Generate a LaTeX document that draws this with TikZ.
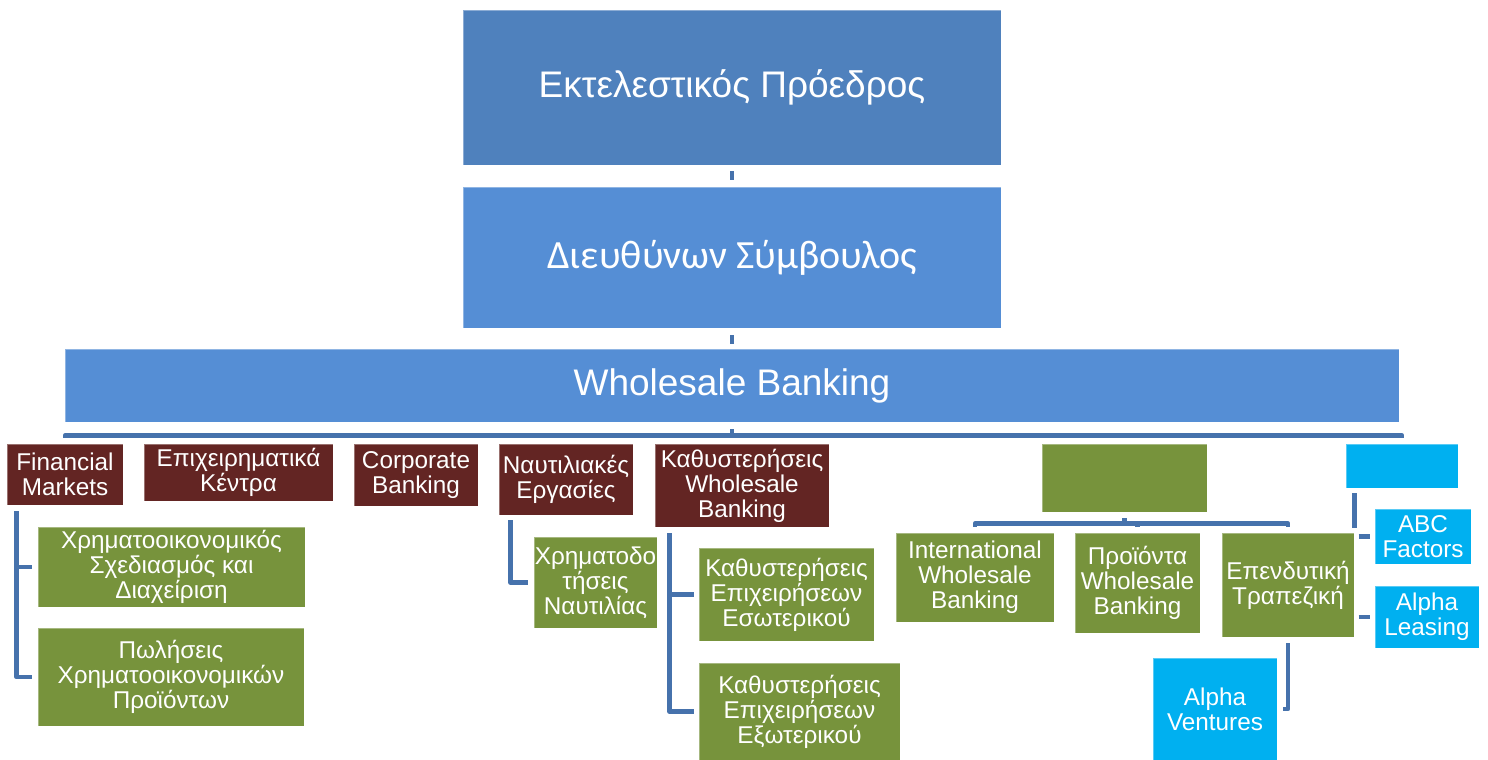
\documentclass[tikz,border=0pt]{standalone}
\usepackage{fontspec}
\setmainfont{Liberation Sans}
\newfontfamily\mdfont{Carlito}
\definecolor{ceoblue}{HTML}{4F81BD}
\definecolor{unitblue}{HTML}{558ED5}
\definecolor{unitred}{HTML}{632523}
\definecolor{unitgreen}{HTML}{77933C}
\definecolor{unitcyan}{HTML}{00B0F0}
\definecolor{connblue}{HTML}{4672AC}
\begin{document}
\begin{tikzpicture}[x=1pt,y=-1pt,
  box/.style={rectangle, inner sep=0pt, text=white, align=center,
    draw=white, draw opacity=0.35, line width=0.8pt},
  big/.style={font=\fontsize{37}{44}\selectfont},
  small/.style={font=\fontsize{24.3}{25}\selectfont},
  conn/.style={draw=connblue, line width=4.5pt, line join=round}]
\useasboundingbox (0,0) rectangle (1488,760);

% top of the hierarchy
\node[box, big, fill=ceoblue, minimum width=538pt, minimum height=155pt] (ceo) at (732,87.5) {\raisebox{-3pt}{Εκτελεστικός Πρόεδρος}};
\node[box, fill=unitblue, minimum width=538pt, minimum height=141pt, font=\mdfont\fontsize{40}{46}\selectfont] (md) at (732,257.5) {Διευθύνων Σύμβουλος};
\node[box, big, fill=unitblue, minimum width=1334pt, minimum height=73pt] (wb) at (732,385.5) {\raisebox{-2pt}{Wholesale Banking}};

% divisions
\node[box, small, fill=unitred, minimum width=116pt, minimum height=61pt] (fm) at (65,474.5) {Financial\\Markets};
\node[box, small, fill=unitred, minimum width=189pt, minimum height=57pt] (ek) at (238.5,472.5) {Επιχειρηματικά\\Κέντρα};
\node[box, small, fill=unitred, minimum width=124pt, minimum height=62pt] (cb) at (416,475) {Corporate\\Banking};
\node[box, small, fill=unitred, minimum width=134pt, minimum height=71pt] (ne) at (566,479.5) {Ναυτιλιακές\\Εργασίες};
\node[box, small, fill=unitred, minimum width=174pt, minimum height=83pt] (kw) at (742,485.5) {Καθυστερήσεις\\Wholesale\\Banking};
\node[box, small, fill=unitgreen, minimum width=165pt, minimum height=68pt] (gr) at (1124.5,478) {};
\node[box, small, fill=unitcyan, minimum width=112pt, minimum height=44pt] (cy) at (1402,466) {};

% units
\node[box, small, fill=unitgreen, minimum width=267pt, minimum height=80pt] (fm1) at (171.5,567) {Χρηματοοικονομικός\\Σχεδιασμός και\\Διαχείριση};
\node[box, small, fill=unitgreen, minimum width=266pt, minimum height=98pt] (fm2) at (171,677) {Πωλήσεις\\Χρηματοοικονομικών\\Προϊόντων};
\node[box, small, fill=unitgreen, minimum width=123pt, minimum height=91pt] (ne1) at (595.5,582.5) {Χρηματοδο\\τήσεις\\Ναυτιλίας};
\node[box, small, fill=unitgreen, minimum width=175pt, minimum height=93pt] (kw1) at (786.5,594.5) {Καθυστερήσεις\\Επιχειρήσεων\\Εσωτερικού};
\node[box, small, fill=unitgreen, minimum width=201pt, minimum height=97pt] (kw2) at (799.5,711.5) {Καθυστερήσεις\\Επιχειρήσεων\\Εξωτερικού};
\node[box, small, fill=unitgreen, minimum width=158pt, minimum height=89pt] (iwb) at (975,577.5) {International\\Wholesale\\Banking};
\node[box, small, fill=unitgreen, minimum width=125pt, minimum height=100pt] (pwb) at (1137.5,583) {Προϊόντα\\Wholesale\\Banking};
\node[box, small, fill=unitgreen, minimum width=132pt, minimum height=104pt] (et) at (1288,585) {Επενδυτική\\Τραπεζική};
\node[box, small, fill=unitcyan, minimum width=96pt, minimum height=55pt] (abc) at (1423,536.5) {ABC\\Factors};
\node[box, small, fill=unitcyan, minimum width=104pt, minimum height=62pt] (al) at (1427,617) {Alpha\\Leasing};
\node[box, small, fill=unitcyan, minimum width=124pt, minimum height=102pt] (av) at (1215,709) {Alpha\\Ventures};

% connectors between the top boxes
\draw[conn, shorten >=7pt, shorten <=6pt] (ceo.south) -- (md.north);
\draw[conn, shorten >=5pt, shorten <=7pt] (md.south) -- (wb.north);

% bus under Wholesale Banking
\foreach \c in {fm,ek,cb,ne,kw,gr,cy}
  \draw[conn] ([yshift=-7pt]wb.south) -- ++(0,6) -| ([yshift=6pt]\c.north);

% bus under the green division
\foreach \c in {iwb,pwb,et}
  \draw[conn] ([yshift=-6pt]gr.south) -- ++(0,5) -| ([yshift=6pt]\c.north);

% side connectors
\foreach \c in {fm1,fm2}
  \draw[conn] ([xshift=10pt,yshift=-6pt]fm.south west) |- ([xshift=-6pt]\c.west);
\draw[conn] ([xshift=12pt,yshift=-5pt]ne.south west) |- ([xshift=-6pt]ne1.west);
\foreach \c in {kw1,kw2}
  \draw[conn] ([xshift=15pt,yshift=-6pt]kw.south west) |- ([xshift=-5pt]\c.west);
\draw[conn] ([yshift=-6pt]et.south) |- ([xshift=6pt]av.east);

% cyan division: short trunk and detached stubs
\draw[conn] ([xshift=9pt,yshift=-5pt]cy.south west) -- ([xshift=9pt,yshift=-40pt]cy.south west);
\foreach \c in {abc,al}
  \draw[conn] ([xshift=-16pt]\c.west) -- ([xshift=-5pt]\c.west);
\end{tikzpicture}
\end{document}
